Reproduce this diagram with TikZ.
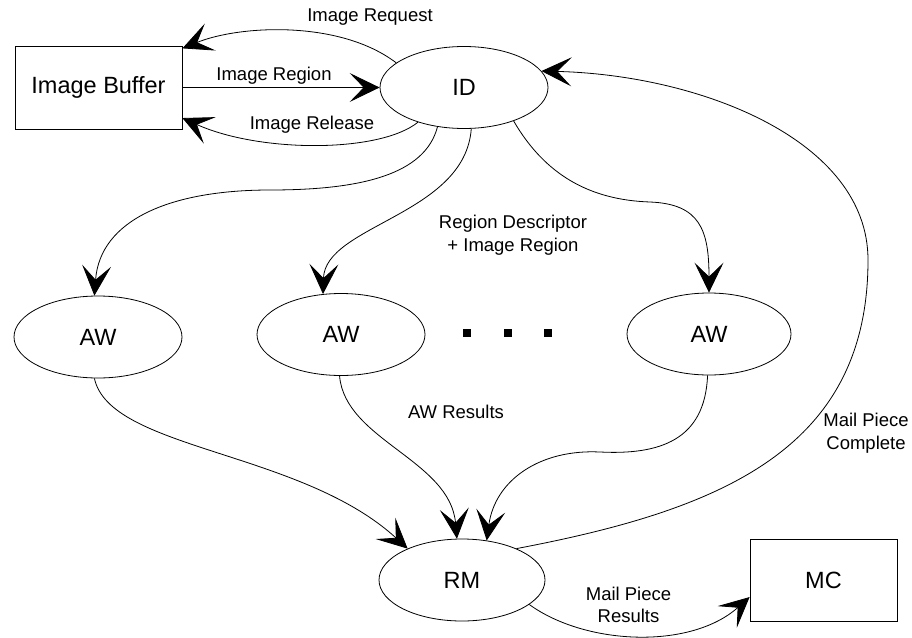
\documentclass[tikz,border=0pt]{standalone}
\usepackage{fontspec}
\setmainfont{Liberation Sans}
\usetikzlibrary{arrows.meta,shapes.geometric}
\tikzset{
  box/.style={draw, line width=0.8pt, rectangle, inner sep=0pt, font=\fontsize{23.5}{28}\selectfont},
  ell/.style={draw, line width=0.8pt, ellipse, inner sep=0pt, minimum width=168pt, minimum height=82pt, font=\fontsize{23.5}{28}\selectfont},
  conn/.style={line width=0.8pt, -{Stealth[length=30pt, width=29pt, inset=14pt]}},
  lbl/.style={font=\fontsize{18.5}{22.5}\selectfont, align=center, inner sep=0pt},
  sqdot/.style={fill, rectangle, minimum size=8pt, inner sep=0pt}
}
\begin{document}
\begin{tikzpicture}[x=1pt,y=-1pt]
\useasboundingbox (0,0) rectangle (912,637);
% nodes
\node[box, minimum width=167pt, minimum height=83pt] (IB) at (98.5,87.5) {Image Buffer};
\node[ell] (ID) at (464,87.5) {ID};
\node[ell] (AW1) at (98,337) {AW};
\node[ell] (AW2) at (341,334.5) {AW};
\node[ell, minimum width=164pt] (AW3) at (709,334) {AW};
\node[ell, minimum width=166pt] (RM) at (462,580) {RM};
\node[box, minimum width=147pt, minimum height=82pt] (MC) at (823.5,580) {MC};
\node[sqdot] (d1) at (467,333) {};
\node[sqdot] (d2) at (508,333) {};
\node[sqdot] (d3) at (548,333) {};
% connectors
\draw[conn] (ID.160) .. controls (340,20) and (240,25) .. (IB.25);
\draw[conn] (IB.east) -- (ID.west);
\draw[conn] (ID.217) .. controls (380,153) and (260,153) .. (IB.340);
\draw[conn] (ID.236) .. controls (425,175) and (360,190) .. (270,190)
                     .. controls (170,190) and (100,220) .. (AW1.95);
\draw[conn] (ID.280) .. controls (465,215) and (325,225) .. (AW2.114);
\draw[conn] (ID.326) .. controls (545,175) and (590,200) .. (650,202)
                     .. controls (700,204) and (709,230) .. (AW3.north);
\draw[conn] (AW1.265) .. controls (110,450) and (300,450) .. (RM.150);
\draw[conn] (AW2.268) .. controls (345,440) and (450,460) .. (RM.97);
\draw[conn] (AW3.268) .. controls (705,440) and (660,455) .. (600,452)
                      .. controls (540,449) and (495,480) .. (RM.58);
\draw[conn] (RM.30) .. controls (720,510) and (868,450) .. (868,260)
                    .. controls (868,140) and (700,75) .. (ID.12);
\draw[conn] (RM.340) .. controls (585,645) and (690,650) .. (MC.193);
% labels
\node[lbl] (l1) at (370,17) {Image Request};
\node[lbl] (l2) at (274,76) {Image Region};
\node[lbl] (l3) at (312,125) {Image Release};
\node[lbl] (l4) at (513,235) {Region Descriptor\\+ Image Region};
\node[lbl] (l5) at (456,412) {AW Results};
\node[lbl] (l6) at (866,433) {Mail Piece\\Complete};
\node[lbl] (l7) at (628.5,605) {Mail Piece\\Results};
\end{tikzpicture}
\end{document}
